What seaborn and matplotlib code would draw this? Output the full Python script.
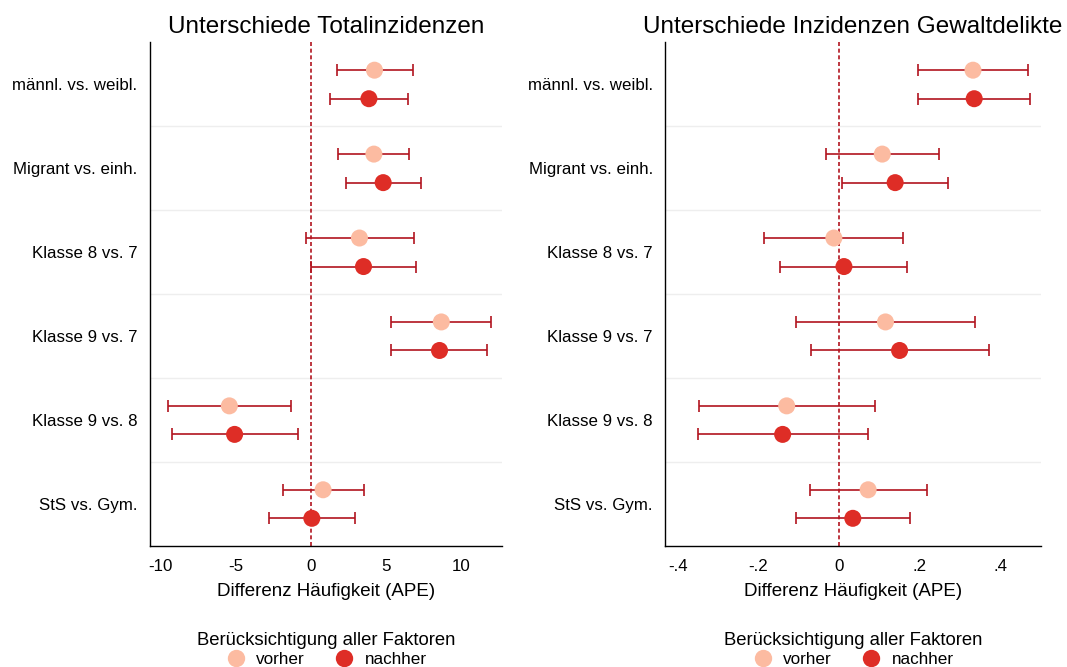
import numpy as np
import pandas as pd
import matplotlib
matplotlib.use("Agg")
import matplotlib.pyplot as plt
from matplotlib.ticker import FuncFormatter
import seaborn as sns

# Vergleichsgruppen (von oben nach unten)
categories = ["männl. vs. weibl.", "Migrant vs. einh.", "Klasse 8 vs. 7",
              "Klasse 9 vs. 7", "Klasse 9 vs. 8", "StS vs. Gym."]
stages = ["vorher", "nachher"]

# Totalinzidenzen: APE mit Konfidenzintervall
total_vorher = [4.24, 4.20, 3.24, 8.69, -5.42, 0.82]
total_vorher_lo = [1.73, 1.84, -0.33, 5.33, -9.53, -1.85]
total_vorher_hi = [6.82, 6.57, 6.87, 11.97, -1.31, 3.53]
total_nachher = [3.87, 4.82, 3.51, 8.57, -5.07, 0.07]
total_nachher_lo = [1.29, 2.33, 0.00, 5.37, -9.27, -2.80]
total_nachher_hi = [6.47, 7.31, 7.02, 11.75, -0.87, 2.93]

# Inzidenzen Gewaltdelikte: APE mit Konfidenzintervall
gewalt_vorher = [0.332, 0.107, -0.013, 0.115, -0.130, 0.072]
gewalt_vorher_lo = [0.196, -0.033, -0.185, -0.107, -0.348, -0.073]
gewalt_vorher_hi = [0.469, 0.247, 0.159, 0.337, 0.090, 0.217]
gewalt_nachher = [0.335, 0.139, 0.012, 0.150, -0.140, 0.034]
gewalt_nachher_lo = [0.196, 0.007, -0.146, -0.069, -0.350, -0.106]
gewalt_nachher_hi = [0.474, 0.271, 0.169, 0.371, 0.071, 0.175]

titles = ["Unterschiede Totalinzidenzen", "Unterschiede Inzidenzen Gewaltdelikte"]
x_ticks_total = [-10, -5, 0, 5, 10]
x_ticks_gewalt = [-0.4, -0.2, 0, 0.2, 0.4]
x_label = "Differenz Häufigkeit (APE)"
legend_title = "Berücksichtigung aller Faktoren"

palette = {"vorher": "#fcbba1", "nachher": "#de2d26"}
ci_color = "#b2141f"
offsets = {"vorher": -0.17, "nachher": 0.17}


def build_frame(v_est, v_lo, v_hi, n_est, n_lo, n_hi):
    rows = []
    for stage, est, lo, hi in (("vorher", v_est, v_lo, v_hi),
                               ("nachher", n_est, n_lo, n_hi)):
        for i, cat in enumerate(categories):
            rows.append({"Gruppe": cat, "Stufe": stage, "APE": est[i],
                         "lo": lo[i], "hi": hi[i],
                         "pos": i + offsets[stage]})
    return pd.DataFrame(rows)


df_total = build_frame(total_vorher, total_vorher_lo, total_vorher_hi,
                       total_nachher, total_nachher_lo, total_nachher_hi)
df_gewalt = build_frame(gewalt_vorher, gewalt_vorher_lo, gewalt_vorher_hi,
                        gewalt_nachher, gewalt_nachher_lo, gewalt_nachher_hi)

sns.set_theme(style="white")
plt.rcParams["font.family"] = ["Liberation Sans", "DejaVu Sans"]
plt.rcParams.update({"text.color": "black", "axes.labelcolor": "black",
                     "xtick.color": "black", "ytick.color": "black",
                     "axes.titlecolor": "black"})

fig = plt.figure(figsize=(10.67, 6.67), dpi=100)
ax1 = fig.add_axes([0.1406, 0.1814, 0.3299, 0.7549])
ax2 = fig.add_axes([0.6235, 0.1814, 0.3519, 0.7549])


def draw_panel(ax, df, title, xlim, xticks, fmt):
    ax.axvline(0, color=ci_color, lw=1.2, ls=(0, (2.4, 1.6)), zorder=1)
    for b in np.arange(0.5, len(categories) - 0.5, 1.0):
        ax.axhline(b, color="#eeeeee", lw=1.0, zorder=0)
    ax.errorbar(df["APE"], df["pos"],
                xerr=[df["APE"] - df["lo"], df["hi"] - df["APE"]],
                fmt="none", ecolor=ci_color, elinewidth=1.2,
                capsize=4.2, capthick=1.2, zorder=2)
    sns.scatterplot(data=df, x="APE", y="pos", hue="Stufe",
                    hue_order=stages, palette=palette, s=150,
                    linewidth=0, zorder=3, ax=ax)
    ax.set_xlim(*xlim)
    ax.set_ylim(len(categories) - 0.5, -0.5)
    ax.set_yticks(range(len(categories)))
    ax.set_yticklabels(categories)
    ax.set_xticks(xticks)
    ax.xaxis.set_major_formatter(FuncFormatter(fmt))
    ax.set_ylabel("")
    ax.set_xlabel(x_label, fontsize=13.5, labelpad=7)
    ax.set_title(title, fontsize=17.5, pad=7)
    for side in ("top", "right"):
        ax.spines[side].set_visible(False)
    for side in ("left", "bottom"):
        ax.spines[side].set_color("black")
        ax.spines[side].set_linewidth(1.0)
    ax.tick_params(axis="both", which="major", direction="out", length=4,
                   width=0.9, color="black", labelcolor="black",
                   labelsize=12.2, pad=5)
    sns.move_legend(ax, "upper center", bbox_to_anchor=(0.5, -0.15),
                    ncol=2, title=legend_title, frameon=False,
                    title_fontsize=13.3, fontsize=12.3,
                    handletextpad=0.6, columnspacing=1.7,
                    handlelength=1.2, borderpad=0.1, labelspacing=0.2)


def fmt_total(v, _):
    return f"{v:g}"


def fmt_gewalt(v, _):
    if abs(v) < 1e-9:
        return "0"
    s = f"{v:.1f}"
    return s.replace("0.", ".")


draw_panel(ax1, df_total, titles[0], (-10.7, 12.73), x_ticks_total, fmt_total)
draw_panel(ax2, df_gewalt, titles[1], (-0.431, 0.5), x_ticks_gewalt, fmt_gewalt)

for ax in (ax1, ax2):
    leg = ax.get_legend()
    leg.get_title().set_color("black")
    for t in leg.get_texts():
        t.set_color("black")
    for h in leg.legend_handles:
        h.set_markersize(12.5)

fig.savefig("out.png", dpi=100, facecolor="white")
